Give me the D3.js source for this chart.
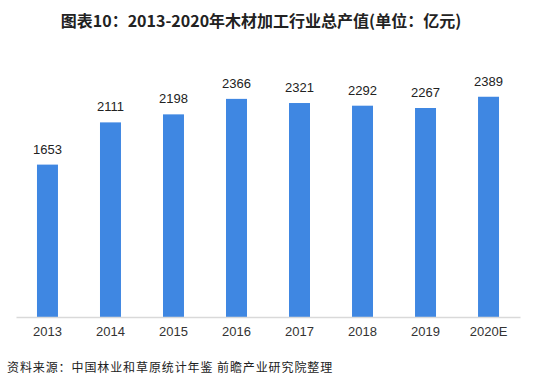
<!DOCTYPE html>
<html><head><meta charset="utf-8">
<script src="https://cdn.jsdelivr.net/npm/d3@7"></script>
<style>body{margin:0;background:#fff;}svg{display:block;}</style>
</head><body>
<script>
const categories = ["2013","2014","2015","2016","2017","2018","2019","2020E"];
const values = [1653,2111,2198,2366,2321,2292,2267,2389];
const titleText = "图表10：2013-2020年木材加工行业总产值(单位：亿元)";
const sourceText = "资料来源：中国林业和草原统计年鉴 前瞻产业研究院整理";

const W = 543, H = 388;
const svg = d3.select("body").append("svg").attr("width", W).attr("height", H);
const x = d3.scaleBand().domain(categories).range([16, 520]).paddingInner(0.667).paddingOuter(0.333);
const y = d3.scaleLinear().domain([0, 2600]).range([317, 77.3]);

svg.append("text").attr("x", 261).attr("y", 27).attr("text-anchor", "middle")
  .attr("font-family", "'Noto Sans CJK SC', sans-serif").attr("font-weight", "bold")
  .attr("font-size", 16).attr("fill", "#222").text(titleText);

svg.selectAll("rect.bar").data(values).join("rect").attr("class","bar")
  .attr("x", (d,i) => x(categories[i])).attr("width", x.bandwidth())
  .attr("y", d => y(d)).attr("height", d => y(0) - y(d)).attr("fill", "#3f87e2");

svg.selectAll("text.val").data(values).join("text").attr("class","val")
  .attr("x", (d,i) => x(categories[i]) + x.bandwidth()/2).attr("y", d => y(d) - 11)
  .attr("text-anchor","middle").attr("font-family","'Liberation Sans', Arial, sans-serif")
  .attr("font-size", 13).attr("fill", "#222").text(d => d);

const ax = svg.append("g").attr("transform", `translate(0,${y(0)})`)
  .call(d3.axisBottom(x).tickSize(0).tickPadding(10));
ax.select(".domain").attr("stroke", "#d9d9d9").attr("stroke-width", 1.5);
ax.selectAll("text").attr("font-family","'Liberation Sans', Arial, sans-serif").attr("font-size", 13).attr("fill", "#333");

svg.append("text").attr("x", 7).attr("y", 372)
  .attr("font-family", "'Noto Sans CJK SC', sans-serif").attr("font-size", 12)
  .attr("letter-spacing", 0.9).attr("fill", "#222").text(sourceText);
</script>
</body></html>
